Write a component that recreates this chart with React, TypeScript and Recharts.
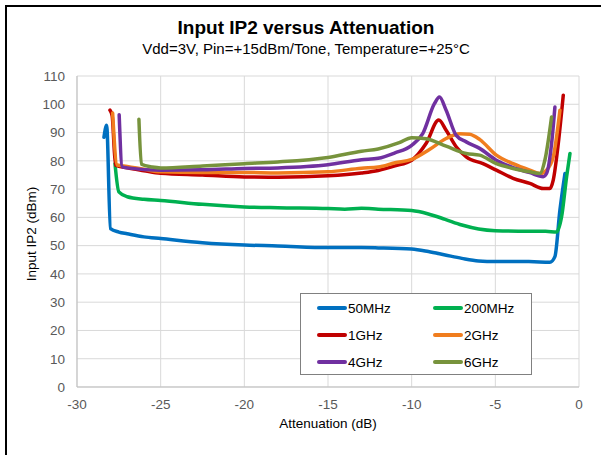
import React from "react";
import { LineChart, Line, XAxis, YAxis, CartesianGrid } from "recharts";

// [attenuation dB, IIP2 dBm]
const s50MHz: number[][] = [
  [-28.39, 88.3], [-28.23, 92.6], [-28.0, 56], [-27.5, 54.8], [-27, 54.2], [-26, 53.1], [-25, 52.5],
  [-22.5, 51], [-20, 50.2], [-18, 49.9], [-15, 49.3], [-13, 49.3], [-12, 49.2], [-10, 48.8],
  [-9, 47.9], [-8, 46.7], [-7, 45.5], [-6, 44.6], [-5, 44.4], [-3, 44.4], [-1.74, 44.1],
  [-1.44, 46.1], [-1.14, 62.6], [-0.84, 75.5],
];
const s200MHz: number[][] = [
  [-27.73, 79], [-27.5, 69], [-27, 67.3], [-26, 66.4], [-25, 66], [-22.5, 64.6], [-20, 63.7],
  [-18, 63.4], [-15, 63.1], [-14, 62.9], [-13, 63.2], [-12, 62.9], [-10, 62.4], [-9, 61.2],
  [-8, 59.3], [-7, 57.3], [-6, 55.9], [-5, 55.3], [-3, 55.1], [-2, 55.1], [-1.34, 54.8],
  [-1.04, 60.2], [-0.74, 74.4], [-0.54, 82.6],
];
const s1GHz: number[][] = [
  [-28.03, 97.9], [-27.9, 96], [-27.7, 78.5], [-27, 77.5], [-26, 76.5], [-25, 75.6], [-22.5, 75],
  [-20, 74.3], [-18, 74.2], [-15, 74.7], [-13, 75.7], [-12, 76.6], [-11, 78.2], [-10, 80.2],
  [-9.14, 86.1], [-8.38, 94.4], [-7.94, 90.8], [-7.34, 85], [-6.74, 81.4], [-5.74, 79],
  [-4.94, 76.7], [-3.94, 73.8], [-2.94, 72], [-2.14, 70.2], [-1.74, 70.2], [-1.54, 73.2],
  [-1.24, 86], [-0.94, 103.2],
];
const s2GHz: number[][] = [
  [-27.87, 96.9], [-27.6, 78.5], [-27, 78], [-26, 77], [-25, 76.1], [-22.5, 75.9], [-20, 75.9],
  [-18, 75.7], [-15, 76.1], [-13, 77.4], [-12, 77.8], [-11, 79.3], [-10, 80.5], [-8.94, 84],
  [-7.94, 87.9], [-7.14, 89.6], [-6.54, 89.4], [-5.94, 87.6], [-4.94, 82], [-3.94, 79],
  [-2.94, 76.7], [-2.34, 75.5], [-1.94, 76.7], [-1.54, 81.4], [-1.14, 97.9],
];
const s4GHz: number[][] = [
  [-27.48, 96.3], [-27.3, 77.9], [-27, 77.5], [-25, 76.7], [-22.5, 76.8], [-20, 77.3], [-18, 77.5],
  [-15, 78.6], [-13, 80.4], [-12, 80.9], [-11, 82.8], [-10, 85.5], [-9.34, 89.6], [-8.64, 100.2],
  [-8.34, 102.6], [-7.94, 97.9], [-7.34, 89], [-6.74, 86.7], [-5.94, 84.4], [-4.94, 80.2],
  [-3.94, 77.6], [-2.94, 75.8], [-2.14, 74.4], [-1.94, 75.5], [-1.64, 86], [-1.44, 99],
];
const s6GHz: number[][] = [
  [-26.3, 94.7], [-26.15, 78.8], [-25.5, 77.8], [-25, 77.5], [-22.5, 78.2], [-20, 79],
  [-18, 79.6], [-15, 81.2], [-13, 83.4], [-12, 84.2], [-10.74, 86.4], [-10, 88.2], [-9.14, 87.8],
  [-7.94, 85.2], [-6.74, 82.6], [-5.94, 82], [-4.94, 79], [-3.94, 77.3], [-2.94, 76.1],
  [-2.34, 75.5], [-2.04, 80.2], [-1.64, 95.5],
];

const seriesNames = ["50MHz", "200MHz", "1GHz", "2GHz", "4GHz", "6GHz"];
const seriesData = [s50MHz, s200MHz, s1GHz, s2GHz, s4GHz, s6GHz];
const seriesColors = ["#0070C0", "#00B050", "#C00000", "#F07D1E", "#7030A0", "#77933C"];

const xTicks = [-30, -25, -20, -15, -10, -5, 0];
const yTicks = [0, 10, 20, 30, 40, 50, 60, 70, 80, 90, 100, 110];

const titleText = "Input IP2 versus Attenuation";
const subtitleText = "Vdd=3V, Pin=+15dBm/Tone, Temperature=+25°C";
const xLabel = "Attenuation (dB)";
const yLabel = "Input IP2 (dBm)";

const FONT = "'Liberation Sans', Arial, sans-serif";

export default function App() {
  const tick = { fontSize: 13.5, fill: "#595959", fontFamily: FONT };
  return (
    <div style={{ position: "absolute", left: 0, top: 0, width: 601, height: 455, overflow: "hidden", background: "#fff", fontFamily: FONT }}>
      <div style={{ position: "absolute", left: 5, top: 5, width: 620, height: 480, borderTop: "2px solid #000", borderLeft: "2px solid #000" }} />
      <LineChart width={601} height={455} margin={{ top: 76, right: 22, bottom: 38, left: 0 }} style={{ position: "absolute", left: 0, top: 0 }}>
        <CartesianGrid stroke="#d9d9d9" strokeWidth={1} />
        <XAxis
          type="number"
          dataKey="x"
          domain={[-30, 0]}
          ticks={xTicks}
          allowDataOverflow
          tickLine={false}
          tickSize={6}
          tickMargin={6}
          axisLine={{ stroke: "#bfbfbf" }}
          tick={tick}
          height={30}
        />
        <YAxis
          type="number"
          domain={[0, 110]}
          ticks={yTicks}
          tickLine={false}
          tickSize={6}
          tickMargin={6}
          axisLine={{ stroke: "#bfbfbf" }}
          tick={tick}
          width={77}
        />
        {seriesData.map((pts, i) => (
          <Line
            key={seriesNames[i]}
            data={pts.map(([x, y]) => ({ x, y }))}
            dataKey="y"
            name={seriesNames[i]}
            type="monotone"
            stroke={seriesColors[i]}
            strokeWidth={3.5}
            strokeLinecap="round"
            strokeLinejoin="round"
            dot={false}
            activeDot={false}
            isAnimationActive={false}
          />
        ))}
      </LineChart>
      <div style={{ position: "absolute", left: 0, width: 612, top: 17, textAlign: "center", fontSize: 19, fontWeight: "bold", color: "#000", lineHeight: "22px" }}>{titleText}</div>
      <div style={{ position: "absolute", left: 0, width: 612, top: 40, textAlign: "center", fontSize: 15, color: "#000", lineHeight: "18px" }}>{subtitleText}</div>
      <div style={{ position: "absolute", left: 328 - 100, width: 200, top: 416, textAlign: "center", fontSize: 13.5, color: "#000", lineHeight: "16px" }}>{xLabel}</div>
      <div style={{ position: "absolute", left: 32 - 100, top: 234 - 8, width: 200, textAlign: "center", fontSize: 13.5, color: "#000", lineHeight: "16px", transform: "rotate(-90deg)" }}>{yLabel}</div>
      <div style={{ position: "absolute", left: 300, top: 293, width: 230, height: 80, border: "1px solid #808080", background: "#fff" }}>
        {seriesNames.map((n, i) => {
          const col = i % 2;
          const row = Math.floor(i / 2);
          return (
            <div key={n} style={{ position: "absolute", left: col === 0 ? 16 : 132, top: 5 + row * 27, height: 18, display: "flex", alignItems: "center", fontSize: 13.5, color: "#000" }}>
              <span style={{ display: "inline-block", width: 30, height: 4, borderRadius: 2, background: seriesColors[i], marginRight: 1 }} />
              <span>{n}</span>
            </div>
          );
        })}
      </div>
    </div>
  );
}
